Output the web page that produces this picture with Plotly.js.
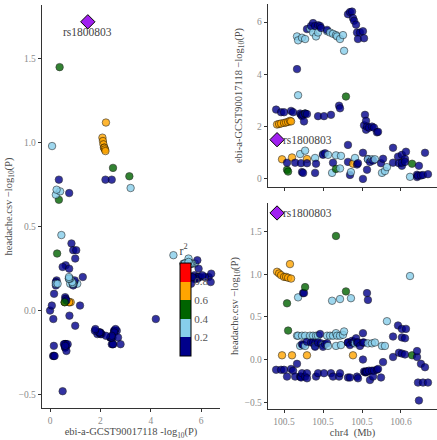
<!DOCTYPE html>
<html>
<head>
<meta charset="utf-8">
<script src="https://cdn.plot.ly/plotly-3.0.1.min.js"></script>
<style>html,body{margin:0;padding:0;background:#fff;}#plot{width:437px;height:440px;}</style>
</head>
<body>
<div id="plot"></div>
<script>
// SNP positions on chr4 (Mb)
const pos = [100.4949,100.4955,100.4968,100.4981,100.4981,100.4987,100.5000,100.5000,100.5013,100.5019,
100.5019,100.5026,100.5026,100.5038,100.5045,100.5045,100.5051,100.5058,100.5071,100.5083,
100.5083,100.5090,100.5090,100.5103,100.5103,100.5109,100.5109,100.5115,100.5115,100.5115,
100.5122,100.5122,100.5128,100.5135,100.5135,100.5135,100.5135,100.5147,100.5147,100.5147,
100.5147,100.5167,100.5173,100.5186,100.5186,100.5199,100.5199,100.5199,100.5205,100.5205,
100.5218,100.5218,100.5218,100.5231,100.5237,100.5250,100.5250,100.5256,100.5263,100.5276,
100.5276,100.5282,100.5295,100.5301,100.5308,100.5314,100.5314,100.5333,100.5333,100.5333,
100.5340,100.5353,100.5359,100.5359,100.5359,100.5365,100.5378,100.5385,100.5397,100.5410,
100.5410,100.5410,100.5423,100.5423,100.5429,100.5436,100.5442,100.5442,100.5449,100.5455,
100.5462,100.5468,100.5468,100.5474,100.5474,100.5487,100.5506,100.5506,100.5506,100.5513,
100.5513,100.5519,100.5526,100.5526,100.5532,100.5532,100.5538,100.5538,100.5545,100.5551,
100.5564,100.5564,100.5571,100.5577,100.5583,100.5596,100.5603,100.5622,100.5628,100.5635,
100.5647,100.5660,100.5699,100.5699,100.5731,100.5737,100.5756,100.5756,100.5756,100.5776,
100.5776,100.5782,100.5808,100.5821,100.5853,100.5853,100.5859,100.5865,100.5878,100.5891,
100.5904,100.5923];
// ebi-a-GCST90017118 -log10(P)
const gwasP = [2.65,2.08,2.10,2.55,2.12,0.75,2.55,2.14,2.16,0.35,
0.62,0.28,2.18,2.22,2.20,2.60,0.82,2.55,0.62,4.20,
5.45,5.30,3.20,2.50,0.95,2.45,0.60,5.40,2.40,0.26,
2.45,0.23,2.20,2.50,5.35,2.50,1.08,5.73,2.48,0.76,
0.60,5.75,5.85,5.60,5.96,5.85,0.80,0.23,5.45,0.58,
5.60,5.88,2.40,5.85,5.77,0.95,0.92,2.40,0.98,5.65,
5.70,0.92,5.60,2.45,0.23,5.55,0.62,0.38,5.50,0.90,
5.45,2.80,2.70,5.35,0.40,0.88,5.50,4.90,3.15,6.30,
1.30,0.65,6.38,0.15,0.26,6.40,6.15,0.58,6.05,0.80,
5.90,5.60,0.55,5.35,0.60,5.60,5.65,1.00,0.00,5.38,
2.05,2.45,2.22,1.88,0.35,2.00,0.76,0.75,1.96,0.65,
2.00,0.75,0.70,1.96,0.75,1.78,1.80,0.60,0.23,0.77,
0.30,0.45,0.62,1.19,0.85,0.60,0.92,0.50,0.62,0.76,
0.65,1.04,0.08,0.58,0.07,0.16,0.12,0.50,0.13,0.15,
1.00,0.18];
// headache.csv -log10(P)
const headP = [-0.12,1.03,1.01,-0.12,0.99,0.05,-0.12,0.97,0.97,0.66,
-0.20,0.34,0.96,1.12,0.95,-0.11,0.05,-0.13,-0.20,-0.05,
0.28,0.28,0.73,-0.20,0.16,-0.20,-0.21,0.28,-0.16,0.18,
0.78,0.17,0.78,0.85,0.28,-0.20,0.16,0.21,-0.16,0.05,
-0.22,0.28,0.20,0.28,0.20,0.19,0.16,0.15,0.28,-0.20,
0.28,0.20,-0.16,0.30,0.19,0.17,0.15,-0.16,0.18,0.28,
0.19,0.16,0.28,-0.16,0.69,0.28,-0.20,1.45,0.31,0.16,
0.28,-0.20,-0.16,0.28,0.71,0.17,0.29,0.33,0.80,0.20,
0.20,-0.21,0.17,-0.21,0.72,0.22,0.20,0.05,0.21,0.19,
0.25,0.20,-0.20,0.20,-0.22,0.16,0.20,0.31,0.00,0.20,
-0.14,-0.15,-0.15,-0.14,0.78,-0.14,0.70,0.19,-0.13,-0.24,
-0.13,0.19,-0.20,-0.13,0.20,-0.12,-0.11,-0.21,0.16,-0.03,
0.16,0.45,0.27,0.03,0.40,0.08,0.36,0.26,0.07,0.25,
0.06,0.36,0.98,0.05,0.03,0.10,-0.27,-0.48,-0.05,-0.27,
-0.09,-0.27];
// LD r2 with the lead SNP
const r2 = [0.1,0.7,0.7,0.1,0.7,0.7,0.1,0.7,0.7,0.5,
0.1,0.5,0.7,0.7,0.7,0.1,0.7,0.1,0.1,0.1,
0.3,0.3,0.3,0.1,0.3,0.1,0.1,0.3,0.1,0.1,
0.1,0.1,0.1,0.5,0.3,0.1,0.3,0.1,0.1,0.7,
0.1,0.3,0.1,0.3,0.1,0.1,0.3,0.1,0.3,0.1,
0.3,0.1,0.1,0.1,0.1,0.3,0.1,0.1,0.1,0.3,
0.1,0.3,0.3,0.1,0.3,0.3,0.1,0.5,0.3,0.3,
0.3,0.1,0.1,0.3,0.3,0.3,0.3,0.3,0.5,0.1,
0.1,0.1,0.1,0.1,0.3,0.1,0.1,0.7,0.1,0.3,
0.1,0.1,0.1,0.1,0.1,0.1,0.1,0.1,0.1,0.1,
0.1,0.1,0.1,0.1,0.1,0.1,0.1,0.3,0.1,0.1,
0.1,0.3,0.1,0.1,0.3,0.1,0.1,0.1,0.3,0.1,
0.3,0.3,0.1,0.1,0.1,0.1,0.1,0.1,0.1,0.1,
0.1,0.1,0.3,0.5,0.1,0.1,0.1,0.1,0.1,0.1,
0.1,0.1];
// lead SNP
const leadName = ["rs1800803"];
const leadPos = [100.4955];
const leadGwas = [1.50];
const leadHead = [1.72];
// r2 legend
const r2Breaks = [0.2, 0.4, 0.6, 0.8];
const r2Colors = ["#00008B", "#87CEEB", "#006400", "#FFA500", "#FF0000"];
const leadColor = "#A020F0";
// tick labels
const leftXTicks = [0, 2, 4, 6];
const leftYTicks = [-0.5, 0.0, 0.5, 1.0, 1.5];
const topYTicks = [0, 2, 4, 6];
const chrTickVals = [100.5, 100.525, 100.55, 100.575];
const chrTickText = ["100.5", "100.5", "100.5", "100.6"];
const gwasTitle = "ebi-a-GCST90017118 \u2212log<sub>10</sub>(P)";
const gwasTitleLeft = "ebi-a-GCST90017118 -log<sub>10</sub>(P)";
const headTitle = "headache.csv \u2212log<sub>10</sub>(P)";
const chrTitle = "chr4  (Mb)";

const colorOf = r => { let i = 0; r2Breaks.forEach(b => { if (r >= b) i++; }); return r2Colors[i]; };
const ptColors = r2.map(colorOf);

const FONT = "Liberation Serif, DejaVu Serif, serif";
const mk = {size: 7.5, color: ptColors, opacity: 0.8, line: {color: "#000", width: 0.6}};
const dia = {symbol: "diamond", size: 11, color: leadColor, line: {color: "#000", width: 1}};

const cs = [];
r2Colors.forEach((c, i) => {
  const lo = i === 0 ? 0 : r2Breaks[i - 1];
  const hi = i === r2Colors.length - 1 ? 1 : r2Breaks[i];
  cs.push([lo, c]); cs.push([hi, c]);
});

const traces = [
  {type: "scatter", mode: "markers", x: gwasP, y: headP, xaxis: "x", yaxis: "y", marker: mk, hoverinfo: "skip"},
  {type: "scatter", mode: "markers", x: pos, y: gwasP, xaxis: "x2", yaxis: "y2", marker: mk, hoverinfo: "skip"},
  {type: "scatter", mode: "markers", x: pos, y: headP, xaxis: "x3", yaxis: "y3", marker: mk, hoverinfo: "skip"},
  {type: "scatter", mode: "markers", x: leadGwas, y: leadHead, xaxis: "x", yaxis: "y", marker: dia, hoverinfo: "skip"},
  {type: "scatter", mode: "markers", x: leadPos, y: leadGwas, xaxis: "x2", yaxis: "y2", marker: dia, hoverinfo: "skip"},
  {type: "scatter", mode: "markers", x: leadPos, y: leadHead, xaxis: "x3", yaxis: "y3", marker: dia, hoverinfo: "skip"},
  {type: "scatter", mode: "markers", x: [null], y: [null], xaxis: "x", yaxis: "y", hoverinfo: "skip",
   marker: {color: [0], cmin: 0, cmax: 1, colorscale: cs, showscale: true,
     colorbar: {x: 180/437, xanchor: "left", y: 1 - 243/440, yanchor: "top",
       len: 113/440, lenmode: "fraction", thickness: 11, thicknessmode: "pixels",
       xpad: 0, ypad: 0, outlinecolor: "#000", outlinewidth: 1,
       tickvals: r2Breaks, ticktext: r2Breaks.map(v => v.toFixed(1)), ticks: "",
       tickfont: {family: FONT, size: 11, color: "#555"},
       title: {text: "r<sup>2</sup>", side: "top", font: {family: FONT, size: 12, color: "#444"}}}}}
];

const tickF = {family: FONT, size: 9.5, color: "#8c8c8c"};
const titleF = {family: FONT, size: 10.5, color: "#4d4d4d"};
const axBase = {showgrid: false, zeroline: false, showline: true, linecolor: "#333", linewidth: 1.3,
  ticks: "outside", ticklen: 3, tickcolor: "#333", tickwidth: 1, tickfont: tickF, automargin: false};

const layout = {
  width: 437, height: 440, margin: {l: 0, r: 0, t: 0, b: 0},
  paper_bgcolor: "#fff", plot_bgcolor: "#fff", showlegend: false,
  font: {family: FONT},
  xaxis: Object.assign({}, axBase, {domain: [42/437, 220/437], range: [-0.32, 6.75], anchor: "y",
    tickvals: leftXTicks, title: {text: gwasTitleLeft, font: titleF, standoff: 3}}),
  yaxis: Object.assign({}, axBase, {domain: [1 - 408/440, 1 - 5/440], range: [-0.58, 1.82], anchor: "x",
    tickvals: leftYTicks, tickformat: ".1f", title: {text: headTitle, font: titleF, standoff: 4}}),
  xaxis2: Object.assign({}, axBase, {domain: [268/437, 1], range: [100.4897, 100.5981], anchor: "y2",
    tickvals: chrTickVals, showticklabels: false}),
  yaxis2: Object.assign({}, axBase, {domain: [1 - 187/440, 1 - 4/440], range: [-0.31, 6.69], anchor: "x2",
    tickvals: topYTicks, title: {text: gwasTitle, font: titleF, standoff: 12}}),
  xaxis3: Object.assign({}, axBase, {domain: [268/437, 1], range: [100.4897, 100.5981], anchor: "y3",
    tickvals: chrTickVals, ticktext: chrTickText, title: {text: chrTitle, font: titleF, standoff: 3}}),
  yaxis3: Object.assign({}, axBase, {domain: [1 - 409/440, 1 - 203/440], range: [-0.58, 1.837], anchor: "x3",
    tickvals: leftYTicks, tickformat: ".1f", title: {text: headTitle, font: titleF, standoff: 4}}),
  annotations: [
    {xref: "x", yref: "y", x: leadGwas[0], y: leadHead[0], text: leadName[0], showarrow: false,
     xanchor: "center", yanchor: "top", yshift: -2, font: {family: FONT, size: 11.5, color: "#444"}},
    {xref: "x2", yref: "y2", x: leadPos[0], y: leadGwas[0], text: leadName[0], showarrow: false,
     xanchor: "left", yanchor: "middle", xshift: 4, font: {family: FONT, size: 11.5, color: "#444"}},
    {xref: "x3", yref: "y3", x: leadPos[0], y: leadHead[0], text: leadName[0], showarrow: false,
     xanchor: "left", yanchor: "middle", xshift: 4, font: {family: FONT, size: 11.5, color: "#444"}}
  ]
};

Plotly.newPlot("plot", traces, layout, {staticPlot: true, displayModeBar: false});
</script>
</body>
</html>
